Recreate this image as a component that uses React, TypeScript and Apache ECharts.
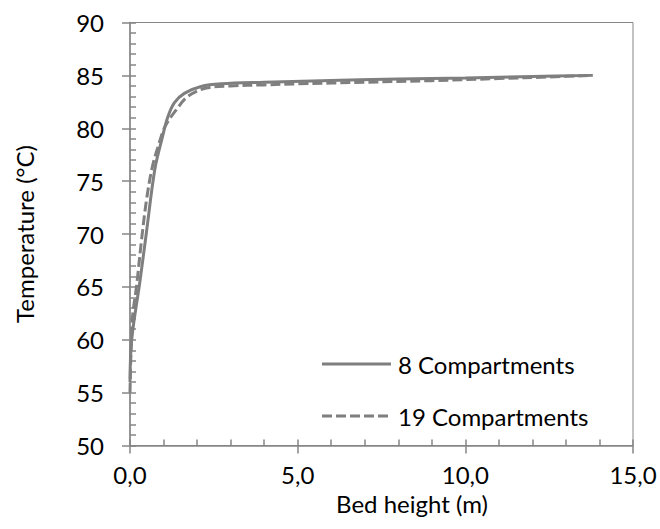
import React, { useEffect, useRef } from "react";
import * as echarts from "echarts";

// 8 compartments (solid)
const bedHeight8 = [0, 0.05, 0.3, 0.5, 0.74, 0.97, 1.12, 1.32, 1.62, 2.12, 2.72, 4, 5.7, 8, 10, 12, 13.8];
const temp8 = [56, 60, 65.6, 70.4, 76.1, 79.2, 81.0, 82.4, 83.3, 83.95, 84.2, 84.35, 84.5, 84.65, 84.75, 84.9, 85.0];

// 19 compartments (dashed)
const bedHeight19 = [0, 0.07, 0.2, 0.35, 0.5, 0.67, 0.87, 1.05, 1.37, 1.72, 2.27, 3, 4, 5, 7, 9, 11, 12.5, 13.8];
const temp19 = [55, 61.9, 65.2, 69.6, 73.4, 76.4, 78.6, 80.2, 81.7, 83.0, 83.8, 84.0, 84.1, 84.2, 84.35, 84.5, 84.7, 84.85, 85.0];

const seriesNames = ["8 Compartments", "19 Compartments"];
const xTitle = "Bed height (m)";
const yTitle = "Temperature (°C)";

const FONT = "Lato, 'Open Sans', sans-serif";
const AXIS_COLOR = "#868686";
const LINE_COLOR = "#7f7f7f";
const DASH = [10, 4];

export default function App() {
  const ref = useRef<HTMLDivElement>(null);
  useEffect(() => {
    const chart = echarts.init(ref.current!, null, { renderer: "svg" });
    const box = { left: 130, right: 27, top: 22.5, bottom: 83.5 };
    const fmt = (v: number) => v.toFixed(1).replace(".", ",");
    const axisLineStyle = { color: AXIS_COLOR, width: 1.5 };
    const legendX = 322;
    const legendY = [364, 416];
    chart.setOption({
      animation: false,
      backgroundColor: "#fff",
      grid: [
        { ...box, show: true, borderColor: AXIS_COLOR, borderWidth: 1, backgroundColor: "transparent", containLabel: false, outerBoundsMode: "none" },
        { ...box, show: false, containLabel: false, outerBoundsMode: "none" },
      ],
      xAxis: [
        {
          gridIndex: 0,
          type: "value",
          min: 0,
          max: 15,
          interval: 5,
          axisLine: { show: true, onZero: false, lineStyle: axisLineStyle },
          axisTick: { show: true, inside: false, length: 8, lineStyle: axisLineStyle },
          axisLabel: { formatter: fmt, fontSize: 24, fontFamily: FONT, color: "#000", margin: 17 },
          splitLine: { show: false },
          name: xTitle,
          nameLocation: "middle",
          nameGap: 46,
          nameMoveOverlap: false,
          nameTextStyle: { fontSize: 24, fontFamily: FONT, color: "#000", padding: [0, 0, 0, 61] },
        },
        {
          gridIndex: 1,
          type: "value",
          min: 0,
          max: 15,
          interval: 5,
          axisLine: { show: false, onZero: false },
          axisTick: { show: true, inside: true, length: 6, lineStyle: axisLineStyle },
          minorTick: { show: true, splitNumber: 5, length: 6, lineStyle: axisLineStyle },
          axisLabel: { show: false },
          splitLine: { show: false },
        },
      ],
      yAxis: [
        {
          gridIndex: 0,
          type: "value",
          min: 50,
          max: 90,
          interval: 5,
          axisLine: { show: true, onZero: false, lineStyle: axisLineStyle },
          axisTick: { show: true, inside: false, length: 8, lineStyle: axisLineStyle },
          axisLabel: { fontSize: 24, fontFamily: FONT, color: "#000", margin: 26 },
          splitLine: { show: false },
          name: yTitle,
          nameLocation: "middle",
          nameGap: 94,
          nameMoveOverlap: false,
          nameTextStyle: { fontSize: 24, fontFamily: FONT, color: "#000" },
        },
        {
          gridIndex: 1,
          type: "value",
          min: 50,
          max: 90,
          interval: 5,
          axisLine: { show: false, onZero: false },
          axisTick: { show: true, inside: true, length: 6, lineStyle: axisLineStyle },
          minorTick: { show: true, splitNumber: 5, length: 6, lineStyle: axisLineStyle },
          axisLabel: { show: false },
          splitLine: { show: false },
        },
      ],
      graphic: seriesNames.flatMap((name, i) => [
        {
          type: "line",
          shape: { x1: legendX, y1: legendY[i], x2: legendX + 69, y2: legendY[i] },
          style: { stroke: LINE_COLOR, lineWidth: 3, lineDash: i === 1 ? DASH : null },
          silent: true,
        },
        {
          type: "text",
          x: legendX + 76,
          y: legendY[i],
          style: { text: name, fontSize: 24, fontFamily: FONT, fill: "#000", verticalAlign: "middle", align: "left" },
          silent: true,
        },
      ]),
      series: [
        {
          name: seriesNames[0],
          type: "line",
          xAxisIndex: 0,
          yAxisIndex: 0,
          data: bedHeight8.map((x, i) => [x, temp8[i]]),
          symbol: "none",
          smooth: 0.35,
          lineStyle: { color: LINE_COLOR, width: 3 },
          itemStyle: { color: LINE_COLOR },
        },
        {
          name: seriesNames[1],
          type: "line",
          xAxisIndex: 0,
          yAxisIndex: 0,
          data: bedHeight19.map((x, i) => [x, temp19[i]]),
          symbol: "none",
          smooth: 0.35,
          lineStyle: { color: LINE_COLOR, width: 3, type: DASH },
          itemStyle: { color: LINE_COLOR },
        },
      ],
    });
    return () => chart.dispose();
  }, []);
  return (
    <div
      ref={ref}
      style={{ position: "fixed", left: 0, top: 0, width: 660, height: 529, background: "#fff" }}
    />
  );
}
